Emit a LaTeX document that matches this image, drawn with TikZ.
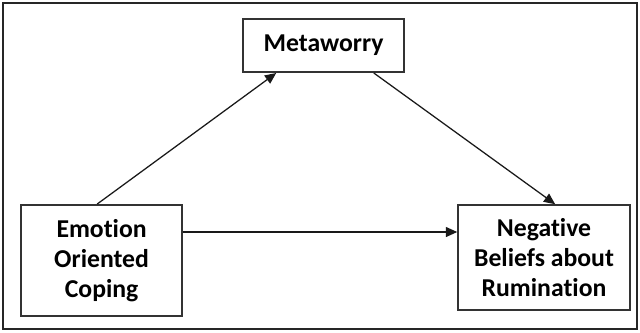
\documentclass[tikz,border=0pt]{standalone}
\usepackage{fontspec}
\setmainfont{Carlito}[Ligatures=NoCommon]
\usetikzlibrary{arrows.meta}

\begin{document}
\begin{tikzpicture}[
    box/.style={draw=black!80, line width=1.1pt, align=center, inner sep=0pt,
      font=\bfseries\fontsize{18.3}{21.5}\selectfont},
    link/.style={-{Triangle[length=8pt,width=7pt]}, line width=0.9pt, black!90}
  ]
    \useasboundingbox (0.0, 0.0) rectangle (16.0, 8.3);
    \draw[line width=2.1pt, black!85] (0.075, 0.075) rectangle (15.925, 8.225);

    \node[box, minimum width=4.03cm, minimum height=1.33cm] (meta) at (8.09, 7.16) {Metaworry};
    \node[box, minimum width=4.03cm, minimum height=2.78cm] (emo) at (2.54, 1.79) {Emotion\\Oriented\\Coping};
    \node[box, minimum width=4.3cm, minimum height=2.63cm] (neg) at (13.6, 1.86) {Negative\\Beliefs about\\Rumination};

    \draw[link] ([xshift=-0.11cm]emo.north) -- ([xshift=0.85cm]meta.south west);
    \draw[link] ([xshift=-0.78cm]meta.south east) -- ([xshift=0.28cm]neg.north);
    \draw[link] ([yshift=0.71cm]emo.east) -- ([yshift=0.64cm]neg.west);

  \end{tikzpicture}
\end{document}
